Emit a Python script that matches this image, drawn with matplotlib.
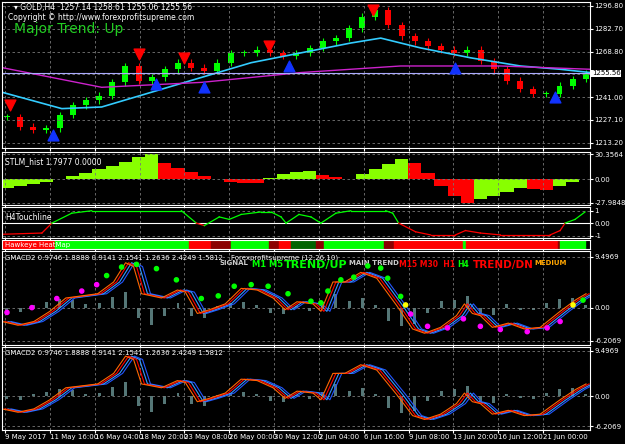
import matplotlib.pyplot as plt
import numpy as np

# bar positions share one time axis (0..590)
bar_x = [5 + 13.2 * i for i in range(45)]
close = [1229, 1223, 1221, 1222, 1230, 1236, 1239, 1242, 1250, 1260, 1251, 1253, 1258, 1262, 1259,
         1257, 1262, 1268, 1268, 1270, 1268, 1266, 1268, 1271, 1275, 1277, 1283, 1290, 1294, 1285,
         1278, 1275, 1272, 1270, 1268, 1270, 1263, 1258, 1251, 1246, 1243, 1243, 1248, 1252, 1255.56]

cyan_x = [0, 60, 100, 150, 200, 250, 300, 350, 380, 420, 470, 520, 560, 590]
cyan_v = [1244, 1234, 1235, 1244, 1253, 1262, 1268, 1274, 1277, 1271, 1265, 1260, 1258, 1256]
mag_x = [0, 100, 200, 300, 400, 500, 590]
mag_v = [1259, 1247, 1250, 1256, 1260, 1260, 1258]

down_x = [8, 137, 183, 268, 372]
down_p = [1236, 1267, 1265, 1272, 1294]
up_x = [51, 155, 203, 288, 455, 555]
up_p = [1218, 1249, 1247, 1260, 1259, 1241]

stlm = [-10, -8, -6, -3, 0, 4, 8, 12, 16, 21, 27, 30, 20, 14, 9, 4, 0, -3, -4, -5, 2, 6, 9, 10, 5,
        3, 1, 6, 12, 18, 24, 20, 8, -8, -20, -28, -24, -20, -15, -10, -12, -13, -8, -3, 1]

touch_x = [0, 40, 50, 70, 90, 180, 195, 203, 218, 228, 240, 260, 270, 280, 285, 298, 310, 320,
           335, 350, 385, 392, 398, 415, 430, 455, 465, 480, 500, 550, 560, 565, 575, 585]
touch_v = [-0.9, -0.8, 0, 0.8, 1, 1, 0, -0.2, 0.5, 0.3, 0.7, 0.9, 0.9, 0.5, 0, 0.7, 0.5, 0,
           0.8, 1, 1, 0.8, 0, -0.7, -0.95, -0.95, -0.6, -0.8, -0.95, -0.95, -0.6, 0, 0.3, 0.9]

heat_edges = [0, 53, 188, 210, 230, 268, 278, 290, 315, 323, 383, 393, 463, 466, 558, 560, 585]
heat_colors = ['red', 'lime', 'red', 'darkred', 'lime', 'darkred', 'red', 'darkgreen', 'darkred',
               'lime', 'darkred', 'red', 'lime', 'red', 'darkred', 'lime']

macd_x = [0, 16, 32, 48, 64, 80, 96, 112, 124, 132, 140, 160, 176, 184, 196, 208, 224, 240, 256,
          272, 284, 296, 312, 320, 332, 344, 360, 376, 396, 412, 424, 440, 456, 464, 472, 480, 492,
          508, 524, 540, 560, 576, 586]
macd_v = [-2.6, -3.3, -2.6, -0.7, 1.8, 2.2, 2.6, 4.8, 8.4, 7.7, 2.6, 1.8, 3.3, 2.9, -1.1, -0.4,
          0.7, 3.6, 3.3, 1.8, -0.4, 1.1, 0.7, -0.7, 4.8, 4.8, 6.6, 5.5, 0.4, -4.0, -4.8, -3.7, -1.5,
          0.7, -1.1, -1.5, -3.7, -2.9, -4.0, -3.7, -0.7, 1.5, 2.6]
hist = [-0.5, -0.8, 0.4, 1.0, 1.6, 1.4, 0.6, 0.8, 2.0, 3.0, -2.0, -3.3, -1.5, 0.8, -1.5, -2.0, 0.3,
        0.8, 1.0, 0.5, -1.0, -1.2, 0.3, -0.6, 1.0, 2.5, 1.2, 1.8, 0.5, -2.5, -3.5, -3.0, -1.0, 1.2,
        1.5, 2.2, -1.2, -1.3, 0.6, -0.4, -0.5, 0.8, 1.6, 1.8, 0.5]

sig_x = [5, 30, 55, 80, 95, 105, 120, 135, 155, 175, 200, 217, 233, 250, 267, 287, 310, 320, 327,
         340, 353, 367, 380, 387, 400, 405, 410, 427, 447, 463, 480, 500, 527, 547, 560, 573, 583]
sig_v = [-0.9, 0, 1.7, 3.1, 4.3, 6.0, 7.6, 8.1, 7.3, 5.2, 1.7, 2.2, 4.0, 4.3, 4.0, 2.6, 1.2, 0.9,
         3.1, 5.2, 5.7, 7.8, 7.4, 5.5, 2.1, 0.5, -1.2, -3.5, -3.8, -2.1, -3.5, -4.1, -4.5, -3.8,
         -2.6, 0.5, 1.4]
sig_c = ['magenta'] * 5 + ['lime'] * 20 + ['yellow'] + ['magenta'] * 9 + ['yellow', 'lime']

date_x = [3, 48, 93, 138, 183, 228, 273, 318, 363, 408, 453, 498, 543]
date_labels = ['9 May 2017', '11 May 16:00', '16 May 04:00', '18 May 20:00', '23 May 08:00',
               '26 May 00:00', '30 May 12:00', '2 Jun 04:00', '6 Jun 16:00', '9 Jun 08:00',
               '13 Jun 20:00', '16 Jun 12:00', '21 Jun 00:00']

fig = plt.figure(figsize=(6.25, 4.44), dpi=100, facecolor='black')
W, H = 625, 444


def panel(top, bottom):
    ax = fig.add_axes([2 / W, 1 - bottom / H, 588 / W, (bottom - top) / H], facecolor='black')
    ax.set_xlim(0, 590)
    for s in ax.spines.values():
        s.set_color('white')
    ax.yaxis.tick_right()
    ax.tick_params(colors='white', labelsize=5, length=2, pad=1)
    ax.set_xticks(date_x)
    ax.tick_params(axis='x', labelbottom=False)
    ax.grid(color='#777777', linestyle=(0, (3, 3)), linewidth=0.6)
    return ax


# main price
ax = panel(2, 148)
ax.set_ylim(1210, 1299)
ax.set_yticks([1213.20, 1227.10, 1241.00, 1254.90, 1268.80, 1282.70, 1296.80])
ax.set_yticklabels(['1213.20', '1227.10', '1241.00', '', '1268.80', '1282.70', '1296.80'])
opens = [close[0]] + close[:-1]
for x, o, c in zip(bar_x, opens, close):
    col = 'lime' if c >= o else 'red'
    ax.vlines(x, min(o, c) - 2, max(o, c) + 2, color=col, lw=0.8)
    ax.bar(x, max(abs(c - o), 0.6), bottom=min(o, c), width=6, color=col)
ax.plot(cyan_x, cyan_v, color='#33ccff', lw=1.2)
ax.plot(mag_x, mag_v, color='#cc22cc', lw=1)
ax.axhline(1255.56, color='#aaaaff', lw=0.8)
ax.scatter(down_x, down_p, marker='v', s=60, color='red', zorder=5)
ax.scatter(up_x, up_p, marker='^', s=60, color='#1133ff', zorder=5)
ax.text(592, 1255.56, '1255.56', color='black', fontsize=5, va='center',
        bbox=dict(fc='white', ec='none', pad=0.5), transform=ax.transData, clip_on=False)
ax.text(0.02, 0.99, '▾ GOLD,H4  1257.14 1258.61 1255.06 1255.56', color='white', fontsize=5.5,
        transform=ax.transAxes, va='top')
ax.text(0.01, 0.925, 'Copyright © http://www.forexprofitsupreme.com', color='white', fontsize=5.5,
        transform=ax.transAxes, va='top')
ax.text(0.02, 0.86, 'Major Trend: Up', color='#22cc22', fontsize=10, transform=ax.transAxes,
        va='top')

# STLM
ax = panel(152, 205)
ax.set_ylim(-31, 33)
ax.set_yticks([-27.9848, 0, 30.3564])
ax.set_yticklabels(['-27.9848', '0.00', '30.3564'])
d = np.diff([stlm[0]] + stlm)
cols = ['#88ff00' if v >= 0 else 'red' for v in d]
ax.bar(bar_x, stlm, width=13.3, color=cols)
ax.text(0.005, 0.9, 'STLM_hist 1.7977 0.0000', color='white', fontsize=5.5,
        transform=ax.transAxes, va='top')

# H4 touchline
ax = panel(207, 238)
ax.set_ylim(-1.2, 1.3)
ax.set_yticks([-1, 0, 1])
ax.set_yticklabels(['-1', '0.00', '1'])
ax.axhline(0, color='white', lw=0.8)
for i in range(len(touch_x) - 1):
    col = 'lime' if touch_v[i] + touch_v[i + 1] >= 0 else 'red'
    ax.plot(touch_x[i:i + 2], touch_v[i:i + 2], color=col, lw=0.9)
ax.text(0.005, 0.8, 'H4Touchline', color='white', fontsize=5.5, transform=ax.transAxes, va='top')

# heat map
ax = panel(240, 249)
ax.set_ylim(0, 1)
ax.set_yticks([])
ax.grid(False)
for a, b, c in zip(heat_edges[:-1], heat_edges[1:], heat_colors):
    ax.axvspan(a, b, color=c)
ax.text(0.005, 0.5, 'Hawkeye HeatMap', color='white', fontsize=5, transform=ax.transAxes,
        va='center')


def macd_panel(top, bottom, with_signal):
    ax = panel(top, bottom)
    ax.set_ylim(-7.0, 10.6 if with_signal else 10.3)
    ax.set_yticks([-6.2069, 0, 9.4969])
    ax.set_yticklabels(['-6.2069', '0.00', '9.4969'])
    ax.bar(bar_x, hist, width=3, color='#557777')
    for sh, col in [(9, '#2255ff'), (6, '#3399ff'), (3, 'red'), (0, '#ff6600')]:
        ax.plot(np.array(macd_x) + sh, macd_v, color=col, lw=0.8)
    ax.text(0.005, 0.96, 'GMACD2 0.9746 1.8888 0.9141 2.1541 1.2636 2.4249 1.5812',
            color='white', fontsize=5, transform=ax.transAxes, va='top')
    if with_signal:
        ax.scatter(sig_x, sig_v, s=9, c=sig_c, zorder=5)
        ax.text(0.39, 0.96, 'Forexprofitsupreme (12,26,10)', color='white', fontsize=5,
                transform=ax.transAxes, va='top')
        items = [(0.37, 'SIGNAL', '#cccccc', 5), (0.425, 'M1 M5', 'lime', 6),
                 (0.48, 'TREND/UP', 'lime', 8), (0.59, 'MAIN TREND', '#cccccc', 5),
                 (0.675, 'M15 M30  H1', 'red', 5.5), (0.775, 'H4', 'lime', 5.5),
                 (0.80, 'TREND/DN', 'red', 7.5), (0.905, 'MEDIUM', 'orange', 5)]
        for x, t, c, fs in items:
            ax.text(x, 0.9, t, color=c, fontsize=fs, transform=ax.transAxes, va='top',
                    fontweight='bold')
    return ax


macd_panel(251, 345, True)
ax = macd_panel(347, 430, False)
ax.tick_params(axis='x', labelbottom=True)
ax.set_xticklabels(date_labels, fontsize=5, ha='left')

fig.savefig('out.png', dpi=100, facecolor='black')
